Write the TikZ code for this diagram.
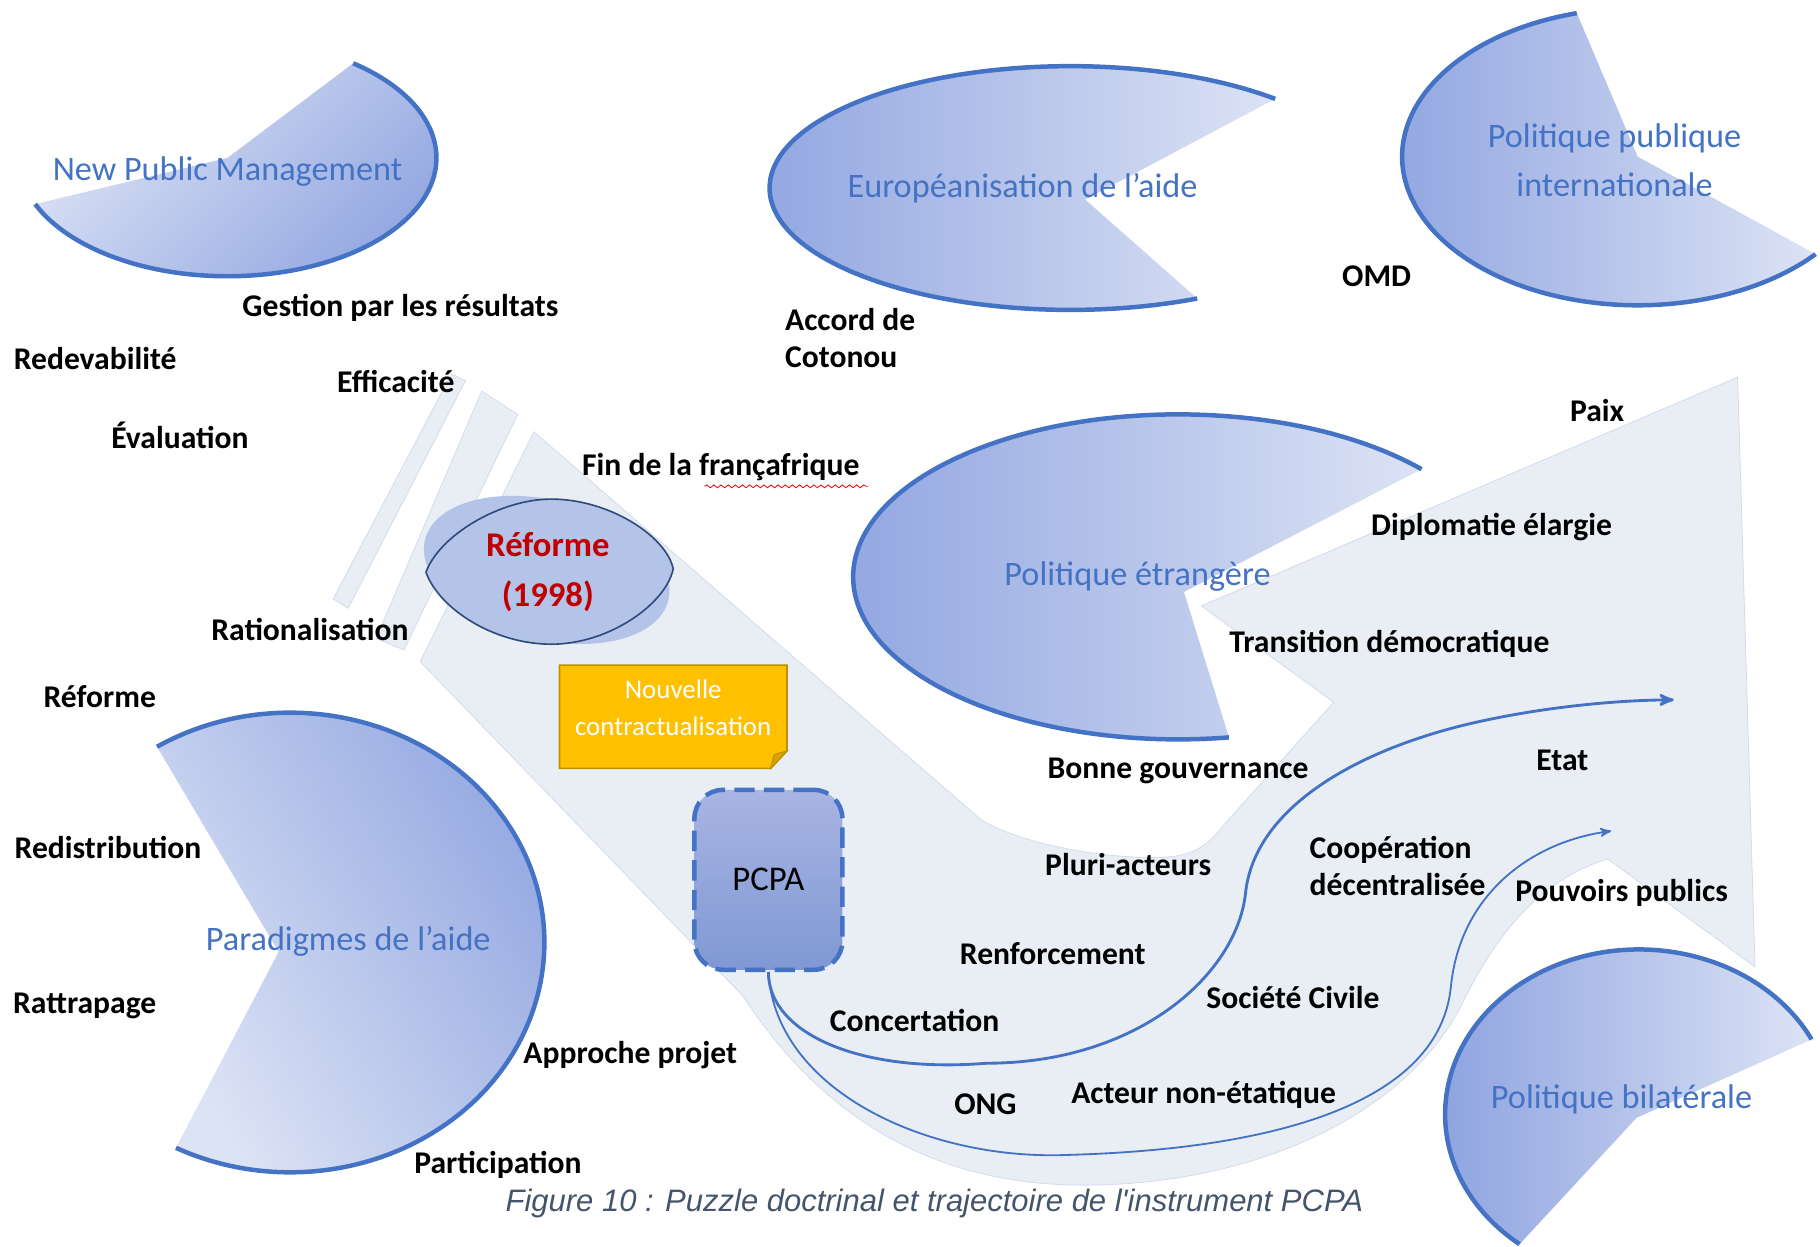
\documentclass[tikz,border=0pt]{standalone}
\usepackage{fontspec}
\setmainfont{Carlito}
\newfontfamily\handfont{Carlito}
\newfontfamily\capfont{Liberation Sans}
\usetikzlibrary{arrows,positioning,calc,decorations.pathmorphing}

\definecolor{pacblue}{HTML}{4472C4}
\definecolor{pacdark}{HTML}{8FA4E0}
\definecolor{paclight}{HTML}{DCE3F5}
\definecolor{bandgrey}{HTML}{E9EEF5}
\definecolor{bandedge}{HTML}{D3DCEC}
\definecolor{reformred}{HTML}{C00000}
\definecolor{lensfill}{HTML}{B4C3E8}
\definecolor{lensedge}{HTML}{2F4B7C}
\definecolor{noteyellow}{HTML}{FFC000}
\definecolor{noteedge}{HTML}{BF9000}
\definecolor{notefold}{HTML}{D9A400}
\definecolor{pcpatop}{HTML}{A9B5E3}
\definecolor{pcpabottom}{HTML}{7F98D3}
\definecolor{capgrey}{HTML}{44546A}

\begin{document}
\begin{tikzpicture}[x=0.02cm,y=-0.02cm,>=stealth',semithick]
\tikzstyle{pacfill} = [top color=pacdark,bottom color=paclight]
\tikzstyle{pacline} = [draw=pacblue,line width=2.2pt]
\tikzstyle{title} = [text=pacblue,font=\fontsize{16.8}{24}\selectfont,align=center]
\tikzstyle{hand} = [font=\handfont\bfseries\fontsize{15.5}{18}\selectfont,align=left]
\tikzstyle{band} = [fill=bandgrey,draw=bandedge,line width=0.4pt]
\tikzstyle{pcpabox} = [rounded corners=14pt,top color=pcpatop,bottom color=pcpabottom,
  draw=pacblue,line width=2.2pt,dash pattern=on 10pt off 4.5pt,
  minimum width=2.55cm,minimum height=3.1cm,font=\fontsize{17}{20}\selectfont]
\tikzset{flow/.style={draw=pacblue,->}}
\useasboundingbox (0,0) rectangle (1568,1074);
\clip (0,0) rectangle (1568,1074);

% grey trajectory
\path[band] (460,372) -- (845,706) .. controls (880,728) and (960,742) .. (1010,738)
  .. controls (1035,735) and (1045,722) .. (1055,710) -- (1149,605) -- (1035,522)
  -- (1497,325) -- (1512,833) -- (1385,740) .. controls (1320,760) and (1285,815) .. (1262,860)
  .. controls (1215,960) and (1080,1022) .. (930,1021) .. controls (790,1020) and (700,950) .. (640,858)
  -- (362,570) -- cycle;
\path[band] (389,322) -- (401,328) -- (300,524) -- (287,516) -- cycle;
\path[band] (415,337) -- (446,357) -- (348,560) -- (324,550) -- cycle;

% puzzle pieces
\shade[pacfill,shading angle=225] (196,136) -- ++(-53:180 and 102)
  arc[start angle=-53,end angle=157,x radius=180,y radius=102] -- cycle;
\draw[pacline] (196,136) ++(-53:180 and 102) arc[start angle=-53,end angle=157,x radius=180,y radius=102];
\shade[pacfill,shading angle=90] (935,172) -- ($(922,162)+(-47:259 and 105)$)
  arc[start angle=-47,end angle=-295,x radius=259,y radius=105] -- cycle;
\draw[pacline] (922,162) ++(-47:259 and 105) arc[start angle=-47,end angle=-295,x radius=259,y radius=105];
\shade[pacfill,shading angle=90] (1411,135) -- ++(-105:203 and 128)
  arc[start angle=-105,end angle=-319,x radius=203,y radius=128] -- cycle;
\draw[pacline] (1411,135) ++(-105:203 and 128) arc[start angle=-105,end angle=-319,x radius=203,y radius=128];
\shade[pacfill,shading angle=90] (1020,510) -- ($(1015,497)+(-41.5:280 and 140)$)
  arc[start angle=-41.5,end angle=-279,x radius=280,y radius=140] -- cycle;
\draw[pacline] (1015,497) ++(-41.5:280 and 140) arc[start angle=-41.5,end angle=-279,x radius=280,y radius=140];
\shade[pacfill,shading angle=-60] (240,820) -- ($(250,812)+(-121.6:219 and 198)$)
  arc[start angle=-121.6,end angle=116.7,x radius=219,y radius=198] -- cycle;
\draw[pacline] (250,812) ++(-121.6:219 and 198) arc[start angle=-121.6,end angle=116.7,x radius=219,y radius=198];
\shade[pacfill,shading angle=90] (1410,963) -- ($(1412,960)+(-27:167 and 142)$)
  arc[start angle=-27,end angle=-232,x radius=167,y radius=142] -- cycle;
\draw[pacline] (1412,960) ++(-27:167 and 142) arc[start angle=-27,end angle=-232,x radius=167,y radius=142];

\node[title] (npm) at (196,148) {New Public Management};
\node[title] (europ) at (881,162) {Européanisation de l’aide};
\node[title] (ppi) at (1391,138) {Politique publique\\internationale};
\node[title] (etrang) at (980,497) {Politique étrangère};
\node[title] (paradig) at (300,811) {Paradigmes de l’aide};
\node[title] (bilat) at (1397,947) {Politique bilatérale};

% reforme 1998
\fill[lensfill,rotate around={-14:(471,491)}] (471,491) ellipse [x radius=108,y radius=60];
\filldraw[fill=lensfill,draw=lensedge,line width=0.8pt] (367,493) .. controls (378,462) and (430,430) .. (475,430)
  .. controls (525,430) and (574,462) .. (580,490) .. controls (574,520) and (525,555) .. (475,555)
  .. controls (425,555) and (378,524) .. (367,493) -- cycle;
\node[font=\bfseries\fontsize{17}{24.5}\selectfont,text=reformred,align=center] (reforme) at (472,493) {Réforme\\(1998)};

% nouvelle contractualisation
\filldraw[fill=noteyellow,draw=noteedge,line width=0.8pt] (482,573) -- (678,573) -- (678,647) -- (664,662) -- (482,662) -- cycle;
\filldraw[fill=notefold,draw=noteedge,line width=0.5pt] (664,662) -- (667,650) -- (678,647) -- cycle;
\node[text=white,font=\fontsize{13.2}{18}\selectfont,align=center] (nouvelle) at (580,610) {Nouvelle\\contractualisation};

\node[pcpabox] (pcpa) at (662,758) {PCPA};

\coordinate (etatend) at (1442,603);
\coordinate (pouvend) at (1388,716);
\draw[flow,line width=1.4pt] (pcpa.south) .. controls (662,890) and (740,925) .. (850,916)
  .. controls (980,916) and (1065,840) .. (1073,770) .. controls (1080,700) and (1160,650) .. (1260,625)
  .. controls (1330,608) and (1400,603) .. (etatend);
\draw[flow,line width=0.9pt] (pcpa.south) .. controls (668,940) and (800,1000) .. (920,995)
  .. controls (1100,990) and (1240,950) .. (1250,850) .. controls (1258,770) and (1320,725) .. (pouvend);

% labels
\node[hand] (gestion) at (345,265) {Gestion par les résultats};
\node[hand] (redev) at (82,309) {Redevabilité};
\node[hand] (effic) at (341,329) {Efficacité};
\node[hand] (evalu) at (155,375) {Évaluation};
\node[hand,anchor=west] (accord) at (670,291) {Accord de\\Cotonou};
\node[hand] (omd) at (1186,238) {OMD};
\node[hand] (fin) at (621,402) {Fin de la françafrique};
\draw[red,decorate,decoration={snake,amplitude=0.7pt,segment length=3.5pt},line width=0.4pt] (607,419) -- (748,419);
\node[hand] (ration) at (267,542) {Rationalisation};
\node[hand] (reformelbl) at (86,600) {Réforme};
\node[hand] (paix) at (1376,354) {Paix};
\node[hand] (diplo) at (1285,454) {Diplomatie élargie};
\node[hand] (transi) at (1197,555) {Transition démocratique};
\node[hand] (bonne) at (1015,664) {Bonne gouvernance};
\node[hand] (etat) at (1346,655) {Etat};
\node[hand] (pluri) at (972,745) {Pluri-acteurs};
\node[hand,anchor=west] (coop) at (1122,746) {Coopération\\décentralisée};
\node[hand] (pouvoirs) at (1397,769) {Pouvoirs publics};
\node[hand] (redist) at (93,730) {Redistribution};
\node[hand] (renfo) at (907,822) {Renforcement};
\node[hand] (societe) at (1114,859) {Société Civile};
\node[hand] (rattra) at (73,867) {Rattrapage};
\node[hand] (concert) at (788,879) {Concertation};
\node[hand] (approche) at (543,909) {Approche projet};
\node[hand] (ong) at (849,951) {ONG};
\node[hand] (acteur) at (1037,943) {Acteur non-étatique};
\node[hand] (particip) at (429,1004) {Participation};

\node[font=\capfont\itshape\fontsize{15.2}{17}\selectfont,text=capgrey] (caption) at (805,1037) {Figure 10 : Puzzle doctrinal et trajectoire de l'instrument PCPA};
\end{tikzpicture}
\end{document}
